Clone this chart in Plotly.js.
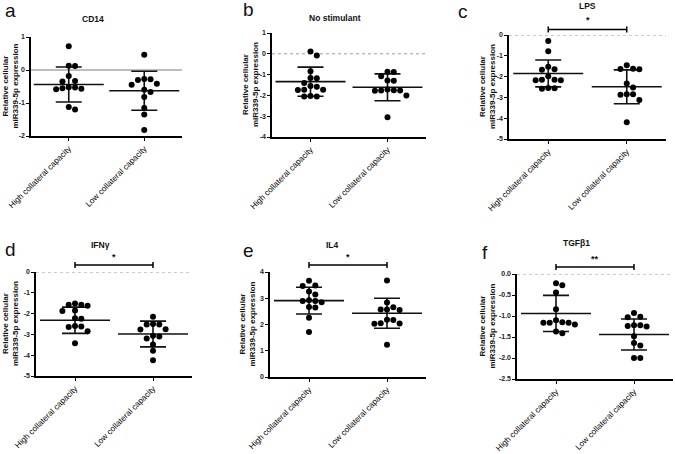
<!DOCTYPE html>
<html><head><meta charset="utf-8">
<script src="https://cdn.plot.ly/plotly-3.0.1.min.js"></script>
<style>html,body{margin:0;padding:0;background:#fff}#chart{width:675px;height:454px}</style>
</head><body><div id="chart"></div>
<script>
// ---------- data ----------
const categories = ["High collateral capacity", "Low collateral capacity"];
const panelTitles = ["CD14", "No stimulant", "LPS", "IFNγ", "IL4", "TGFβ1"];
const panelLetters = ["a", "b", "c", "d", "e", "f"];
const significance = ["", "", "*", "*", "*", "**"];
const yAxisTitle = "Relative cellular<br>miR339-5p expression";

const cd14High = [0.72, 0.12, 0.13, -0.18, -0.33, -0.35, -0.52, -0.55, -0.58, -0.57, -0.53, -1.12, -1.20];
const cd14Low = [0.46, -0.27, -0.30, -0.28, -0.42, -0.45, -0.60, -0.67, -0.82, -1.15, -1.35, -1.82];
const noStimHigh = [0.11, -0.08, -0.84, -1.16, -1.17, -1.40, -1.55, -1.58, -1.73, -1.73, -1.74, -2.03, -2.05, -2.05];
const noStimLow = [-0.86, -0.87, -1.08, -1.28, -1.30, -1.72, -1.75, -1.76, -1.78, -1.76, -2.00, -3.05];
const lpsHigh = [-0.29, -0.78, -1.53, -1.65, -1.67, -1.98, -2.15, -2.17, -2.15, -2.18, -2.55, -2.58, -2.56];
const lpsLow = [-1.45, -1.62, -1.65, -1.63, -2.33, -2.52, -2.85, -2.85, -2.87, -3.13, -4.19];
const ifnHigh = [-1.52, -1.57, -1.57, -1.62, -1.85, -1.87, -2.22, -2.25, -2.60, -2.62, -2.65, -2.85, -3.43];
const ifnLow = [-2.15, -2.50, -2.52, -2.52, -2.75, -2.77, -3.07, -3.10, -3.20, -3.48, -3.79, -4.24];
const il4High = [3.67, 3.47, 3.49, 3.26, 3.14, 2.92, 2.90, 2.90, 2.85, 2.67, 2.65, 2.26, 1.71];
const il4Low = [3.68, 2.84, 2.66, 2.57, 2.57, 2.55, 2.18, 2.17, 2.05, 2.03, 2.04, 1.23];
const tgfHigh = [-0.22, -0.27, -0.44, -0.84, -1.10, -1.15, -1.16, -1.16, -1.16, -1.20, -1.37, -1.41];
const tgfLow = [-0.93, -1.02, -1.03, -1.22, -1.25, -1.24, -1.22, -1.48, -1.64, -1.70, -2.00, -2.00];

// mean and SD (High, Low)
const cd14Mean = [-0.44, -0.63], cd14SD = [0.53, 0.59];
const noStimMean = [-1.34, -1.61], noStimSD = [0.70, 0.645];
const lpsMean = [-1.85, -2.49], lpsSD = [0.645, 0.815];
const ifnMean = [-2.32, -2.98], ifnSD = [0.63, 0.62];
const il4Mean = [2.91, 2.43], il4SD = [0.51, 0.57];
const tgfMean = [-0.94, -1.44], tgfSD = [0.43, 0.37];

const yRanges = [[-2, 1], [-4, 1], [-5, 0], [-5, 0], [0, 4], [-2.5, 0]];
const yTickVals = [[-2, -1, 0, 1], [-4, -3, -2, -1, 0, 1], [-5, -4, -3, -2, -1, 0], [-5, -4, -3, -2, -1, 0], [0, 1, 2, 3, 4], [-2.5, -2, -1.5, -1, -0.5, 0]];
const yTickText = [["-2", "-1", "0", "1"], ["-4", "-3", "-2", "-1", "0", "1"], ["-5", "-4", "-3", "-2", "-1", "0"], ["-5", "-4", "-3", "-2", "-1", "0"], ["0", "1", "2", "3", "4"], ["-2.5", "-2.0", "-1.5", "-1.0", "-0.5", "0.0"]];

const groups = [[cd14High, cd14Low], [noStimHigh, noStimLow], [lpsHigh, lpsLow], [ifnHigh, ifnLow], [il4High, il4Low], [tgfHigh, tgfLow]];
const means = [cd14Mean, noStimMean, lpsMean, ifnMean, il4Mean, tgfMean];
const sds = [cd14SD, noStimSD, lpsSD, ifnSD, il4SD, tgfSD];

// ---------- layout geometry (px) ----------
const W = 675, H = 454;
const boxes = [
  {l: 31, r: 182, t: 37, b: 136},
  {l: 272, r: 426, t: 33, b: 137},
  {l: 509, r: 666, t: 35, b: 139},
  {l: 36, r: 192, t: 272, b: 376},
  {l: 270, r: 426, t: 272, b: 377},
  {l: 517, r: 673, t: 274, b: 379}
];
const titlePos = [[93, 19], [335, 18], [587, 6], [100, 245], [332, 245], [576, 243]];
const letterPos = [[11, 11], [248, 10], [463, 12], [10, 250], [248, 251], [485, 252]];
const yTitleX = [10, 250, 487, 10, 247, 487];
const bracketY = [0, 0, 29.5, 265, 265, 267];
const starY = [0, 0, 20, 257, 257, 259];

const px = x => x / W, py = y => 1 - y / H;
const FONT = "Liberation Sans, Arial, sans-serif";

function swarm(vals, pxPerY, pxPerX) {
  const order = vals.map((v, i) => i).sort((a, b) => vals[b] - vals[a]);
  const placed = [], offs = new Array(vals.length).fill(0);
  const D = 6.3;
  for (const i of order) {
    const yp = vals[i] * pxPerY;
    for (let k = 0; k < 30; k++) {
      const m = k === 0 ? 0 : (k % 2 === 1 ? Math.ceil(k / 2) : -k / 2);
      const xp = m * D;
      if (placed.every(p => Math.hypot(p[0] - xp, p[1] - yp) >= D - 0.01)) {
        placed.push([xp, yp]); offs[i] = xp / pxPerX; break;
      }
    }
  }
  return offs;
}

const traces = [], shapes = [], annotations = [];
const layout = {
  width: W, height: H, margin: {l: 0, r: 0, t: 0, b: 0},
  paper_bgcolor: "#fff", plot_bgcolor: "#fff", showlegend: false,
  font: {family: FONT, color: "#111"}
};

boxes.forEach((bx, p) => {
  const n = p === 0 ? "" : String(p + 1);
  const xa = "x" + n, ya = "y" + n;
  const rng = yRanges[p];
  const pxPerY = (bx.b - bx.t) / (rng[1] - rng[0]);
  const pxPerX = (bx.r - bx.l) / 2;

  layout["xaxis" + n] = {
    domain: [px(bx.l), px(bx.r)], range: [-0.5, 1.5], anchor: ya,
    tickvals: [0, 1], ticktext: categories, tickangle: -45,
    tickfont: {size: 8.2, family: FONT, color: "#000"},
    showline: true, linecolor: "#000", linewidth: 1.6, mirror: false,
    ticks: "outside", ticklen: 3, tickwidth: 1, tickcolor: "#000",
    showgrid: false, zeroline: false, fixedrange: true
  };
  layout["yaxis" + n] = {
    domain: [py(bx.b), py(bx.t)], range: rng, anchor: xa,
    tickvals: yTickVals[p], ticktext: yTickText[p],
    tickfont: {size: 7, family: FONT, color: "#222", weight: "bold"},
    showline: true, linecolor: "#000", linewidth: 1.6,
    ticks: "outside", ticklen: 3, tickwidth: 1, tickcolor: "#000",
    showgrid: false, zeroline: false, fixedrange: true
  };

  // zero reference line
  if (rng[0] < 0 && rng[1] >= 0) {
    shapes.push({type: "line", xref: xa, yref: ya, x0: -0.5, x1: 1.5, y0: 0, y1: 0,
      line: {color: p === 0 ? "#bdbdbd" : "#9a9a9a", width: p === 0 ? 1.8 : 1, dash: p === 0 ? "solid" : "dot"}, layer: "below"});
  }

  // mean ± SD
  traces.push({
    type: "scatter", mode: "markers", xaxis: xa, yaxis: ya,
    x: [0, 1], y: means[p], cliponaxis: false,
    marker: {symbol: "line-ew", size: 50, color: "#000", line: {color: "#111", width: 1.6}},
    error_y: {type: "data", array: sds[p], visible: true, color: "#111", thickness: 1.6, width: 13},
    hoverinfo: "skip"
  });

  // dots
  groups[p].forEach((vals, g) => {
    const offs = swarm(vals, pxPerY, pxPerX);
    traces.push({
      type: "scatter", mode: "markers", xaxis: xa, yaxis: ya, cliponaxis: false,
      x: vals.map((v, i) => g + offs[i]), y: vals,
      marker: {size: 6, color: "#000"}, hoverinfo: "y"
    });
  });

  // titles, letters, y-axis titles
  annotations.push({xref: "paper", yref: "paper", x: px(titlePos[p][0]), y: py(titlePos[p][1]),
    text: panelTitles[p], showarrow: false, xanchor: "center", yanchor: "middle",
    font: {size: 8.5, family: FONT, color: "#111", weight: "bold"}});
  annotations.push({xref: "paper", yref: "paper", x: px(letterPos[p][0]), y: py(letterPos[p][1]),
    text: panelLetters[p], showarrow: false, xanchor: "center", yanchor: "middle",
    font: {size: 19, family: FONT, color: "#111"}});
  annotations.push({xref: "paper", yref: "paper", x: px(yTitleX[p]), y: py((bx.t + bx.b) / 2),
    text: yAxisTitle, showarrow: false, textangle: -90, xanchor: "center", yanchor: "middle",
    font: {size: 8, family: FONT, color: "#111", weight: "bold"}});

  // significance bracket
  if (significance[p]) {
    const yb = py(bracketY[p]);
    const dy = 3 / H;
    shapes.push({type: "line", xref: xa, yref: "paper", x0: 0, x1: 1, y0: yb, y1: yb, line: {color: "#000", width: 1.5}});
    shapes.push({type: "line", xref: xa, yref: "paper", x0: 0, x1: 0, y0: yb - dy, y1: yb + dy, line: {color: "#000", width: 1.5}});
    shapes.push({type: "line", xref: xa, yref: "paper", x0: 1, x1: 1, y0: yb - dy, y1: yb + dy, line: {color: "#000", width: 1.5}});
    annotations.push({xref: xa, yref: "paper", x: 0.5, y: py(starY[p]), text: significance[p],
      showarrow: false, xanchor: "center", yanchor: "middle",
      font: {size: 9, family: FONT, color: "#111", weight: "bold"}});
  }
});

layout.shapes = shapes;
layout.annotations = annotations;
Plotly.newPlot("chart", traces, layout, {displayModeBar: false, staticPlot: true});
</script>
</body></html>
